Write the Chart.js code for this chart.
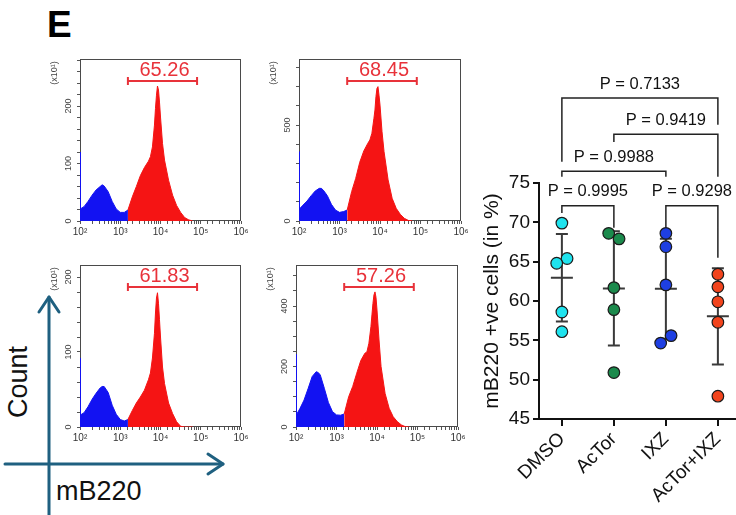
<!DOCTYPE html>
<html>
<head>
<meta charset="utf-8">
<script src="https://cdn.jsdelivr.net/npm/chart.js@4.4.1/dist/chart.umd.min.js"></script>
<style>
  html, body { margin: 0; padding: 0; background: #fff; overflow: hidden; }
  #wrap { position: relative; width: 736px; height: 515px; overflow: hidden; background: #fff; }
  #wrap canvas, #wrap svg { position: absolute; }
</style>
</head>
<body>
<div id="wrap">
  <svg width="736" height="515" style="left:0;top:0" font-family="Liberation Sans, Arial, sans-serif">
    <text x="47" y="37" font-size="37" font-weight="bold" fill="#000">E</text>
    <g stroke="#1f6080" stroke-width="3" fill="none" stroke-linecap="round" stroke-linejoin="round">
      <line x1="49" y1="516" x2="49" y2="297"/>
      <polyline points="39,312 49,297 59,312"/>
      <line x1="5" y1="464" x2="223" y2="464"/>
      <polyline points="208,454 223,464 208,474"/>
    </g>
    <text transform="translate(27,418) rotate(-90)" font-size="27" fill="#111">Count</text>
    <text x="56" y="500" font-size="27" fill="#111">mB220</text>
  </svg>
</div>
<script>
Chart.defaults.font.family = '"Liberation Sans", Arial, Helvetica, sans-serif';
Chart.defaults.animation = false;

// ---- flow histograms (mB220 intensity, log channels) ----
const channels = [100, 102, 126, 158, 200, 251, 316, 355, 398, 501, 631, 794, 1000, 1259, 1549,
  1995, 2512, 3162, 3981, 5012, 5623, 6310, 7079, 7499, 7943, 8414, 8913, 9441, 10000,
  11220, 12589, 15849, 19953, 25119, 31623, 39811, 50119, 63096];

const countsTopLeft = [120, 21, 25, 34, 45, 54, 60, 63, 61, 51, 34, 21, 15, 15, 19,
  42, 60, 79, 93, 104, 112, 129, 167, 196, 219, 235, 228, 207, 181,
  135, 106, 71, 45, 27, 15, 6, 2, 0];
const countsTopRight = [361, 62, 83, 104, 132, 156, 170, 170, 161, 132, 87, 57, 45, 49, 57,
  153, 222, 306, 365, 405, 422, 457, 535, 578, 648, 691, 700, 656, 604,
  465, 361, 214, 118, 66, 35, 14, 3, 0];
const countsBottomLeft = [92, 16, 19, 27, 37, 45, 52, 54, 54, 46, 29, 17, 10, 8, 10,
  22, 32, 40, 49, 63, 72, 92, 125, 152, 172, 179, 165, 143, 120,
  80, 58, 32, 18, 7, 1, 0, 0, 0];
const countsBottomRight = [240, 40, 62, 89, 128, 167, 183, 180, 172, 128, 81, 51, 40, 39, 43,
  100, 134, 178, 220, 244, 248, 277, 332, 371, 409, 437, 447, 429, 387,
  288, 200, 111, 62, 34, 18, 7, 1, 0];

const gate = [1549, 81000];
const gatePct = ['65.26', '68.45', '61.83', '57.26'];
const histYMax = [282, 844, 216, 536];
const histYStep = [20, 100, 20, 50];
const histYLabels = [[0, 100, 200], [0, 500], [0, 100, 200], [0, 200, 400]];
const xTickValues = [100, 1000, 10000, 100000, 1000000];
const xTickLabels = ['10²', '10³', '10⁴', '10⁵', '10⁶'];

// ---- dot plot ----
const groups = ['DMSO', 'AcTor', 'IXZ', 'AcTor+IXZ'];
const valsDMSO = [69.9, 65.4, 64.8, 58.6, 56.1];
const valsAcTor = [68.6, 67.9, 61.7, 58.9, 50.9];
const valsIXZ = [68.6, 66.9, 62.05, 55.6, 54.65];
const valsCombo = [63.4, 61.8, 59.9, 57.3, 47.9];
const jitDMSO = [0, 0.1, -0.1, 0, 0];
const jitAcTor = [-0.1, 0.1, 0, 0, 0];
const jitIXZ = [0, 0, 0, 0.1, -0.1];
const jitCombo = [0, 0, 0, 0, 0];

const pPairs = [[0, 3], [1, 3], [0, 2], [0, 1], [2, 3]];
const pText = ['P = 0.7133', 'P = 0.9419', 'P = 0.9988', 'P = 0.9995', 'P = 0.9298'];
const pLineY = [85.8, 81.2, 76.5, 72.1, 72.1];
const pLegEnds = [[77.7, 82.4], [80.2, 75.8], [75.8, 75.8], [71.2, 69.3], [69.3, 65.5]];

const BLUE = '#1212f2';
const RED = '#f51414';
const GATE_RED = '#e8323a';

const wrap = document.getElementById('wrap');

function addCanvas(left, top, w, h) {
  const cv = document.createElement('canvas');
  cv.width = w; cv.height = h;
  cv.style.left = left + 'px'; cv.style.top = top + 'px';
  wrap.appendChild(cv);
  return cv;
}

// blue below the gate, red inside it
const gateColor = c => (c.p0.parsed.x >= gate[0] ? RED : BLUE);

const histDeco = {
  id: 'histDeco',
  beforeDatasetsDraw(chart) {
    // frame goes under the fill so the first-channel spike shows on top of it
    const { ctx, chartArea: a } = chart;
    ctx.save();
    ctx.strokeStyle = '#4a4a4a';
    ctx.lineWidth = 1;
    ctx.strokeRect(a.left + 0.5, a.top + 0.5, a.right - a.left - 1, a.bottom - a.top - 1);
    ctx.restore();
  },
  afterDraw(chart, args, opts) {
    const { ctx, chartArea: a, scales: { x, y } } = chart;
    ctx.save();
    ctx.fillStyle = '#444';
    ctx.font = '9px "Liberation Sans", Arial';
    ctx.textAlign = 'center';
    ctx.textBaseline = 'middle';
    opts.yLabels.forEach(v => {
      ctx.save();
      ctx.translate(a.left - 11, y.getPixelForValue(v));
      ctx.rotate(-Math.PI / 2);
      ctx.fillText(String(v), 0, 0);
      ctx.restore();
    });
    ctx.save();
    ctx.translate(a.left - 25, a.top + 14);
    ctx.rotate(-Math.PI / 2);
    ctx.fillText('(x10¹)', 0, 0);
    ctx.restore();

    // gate bar + percentage
    const g0 = x.getPixelForValue(gate[0]), g1 = x.getPixelForValue(gate[1]);
    const gy = a.top + 22;
    ctx.strokeStyle = GATE_RED;
    ctx.lineWidth = 2;
    ctx.beginPath();
    ctx.moveTo(g0, gy); ctx.lineTo(g1, gy);
    ctx.moveTo(g0, gy - 4); ctx.lineTo(g0, gy + 4);
    ctx.moveTo(g1, gy - 4); ctx.lineTo(g1, gy + 4);
    ctx.stroke();
    ctx.fillStyle = GATE_RED;
    ctx.font = '20px "Liberation Sans", Arial';
    ctx.textBaseline = 'alphabetic';
    ctx.fillText(opts.pct, (g0 + g1) / 2 + 2, a.top + 17);
    ctx.restore();
  }
};

function makeHist(counts, k, fx, fy, fw, fh) {
  const cv = addCanvas(fx - 50, fy - 40, fw + 65, fh + 70);
  const pts = channels.map((c, i) => ({ x: c, y: counts[i] }));
  new Chart(cv, {
    type: 'line',
    data: {
      datasets: [{
        data: pts, fill: 'origin', borderWidth: 1, pointRadius: 0, tension: 0,
        borderColor: BLUE, backgroundColor: BLUE,
        segment: { borderColor: gateColor, backgroundColor: gateColor }
      }]
    },
    options: {
      responsive: false,
      animation: false,
      layout: { padding: { top: 40, right: 15, left: 0, bottom: 0 } },
      plugins: {
        legend: { display: false },
        tooltip: { enabled: false },
        histDeco: { yLabels: histYLabels[k], pct: gatePct[k] }
      },
      scales: {
        x: {
          type: 'logarithmic', min: 100, max: 1000000,
          border: { display: false },
          grid: { drawOnChartArea: false, tickLength: 3, color: '#555' },
          ticks: {
            autoSkip: false, maxRotation: 0, minRotation: 0, padding: 2,
            color: '#333', font: { size: 10 },
            callback: v => {
              const i = xTickValues.findIndex(t => Math.abs(t - v) < 1e-6 * t);
              return i >= 0 ? xTickLabels[i] : '';
            }
          },
          afterFit: s => { s.height = 30; }
        },
        y: {
          min: 0, max: histYMax[k],
          border: { display: false },
          grid: { drawOnChartArea: false, tickLength: 3, color: '#555' },
          ticks: { display: false, stepSize: histYStep[k], includeBounds: false },
          afterFit: s => { s.width = 50; }
        }
      }
    },
    plugins: [histDeco]
  });
}

makeHist(countsTopLeft, 0, 80, 59, 161, 162);
makeHist(countsTopRight, 1, 299, 59, 162, 162);
makeHist(countsBottomLeft, 2, 80, 265, 161, 162);
makeHist(countsBottomRight, 3, 296, 265, 162, 162);

// ---- dot plot with mean +/- SD and p-value brackets ----
const groupVals = [valsDMSO, valsAcTor, valsIXZ, valsCombo];
const groupJit = [jitDMSO, jitAcTor, jitIXZ, jitCombo];
const groupColors = ['#1fe3ee', '#1b8a4c', '#1e3fe2', '#f2441d'];

const dotDeco = {
  id: 'dotDeco',
  beforeDatasetsDraw(chart) {
    const { ctx, scales: { x, y } } = chart;
    ctx.save();
    ctx.strokeStyle = '#3a3a3a';
    ctx.lineWidth = 2;
    groupVals.forEach((vals, i) => {
      const n = vals.length;
      const mean = vals.reduce((s, v) => s + v, 0) / n;
      const sd = Math.sqrt(vals.reduce((s, v) => s + (v - mean) ** 2, 0) / (n - 1));
      const px = x.getPixelForValue(i);
      const yt = y.getPixelForValue(mean + sd), yb = y.getPixelForValue(mean - sd), ym = y.getPixelForValue(mean);
      ctx.beginPath();
      ctx.moveTo(px, yt); ctx.lineTo(px, yb);
      ctx.moveTo(px - 6, yt); ctx.lineTo(px + 6, yt);
      ctx.moveTo(px - 6, yb); ctx.lineTo(px + 6, yb);
      ctx.moveTo(px - 11, ym); ctx.lineTo(px + 11, ym);
      ctx.stroke();
    });
    ctx.restore();
  },
  afterDraw(chart) {
    const { ctx, scales: { x, y } } = chart;
    ctx.save();
    ctx.strokeStyle = '#222';
    ctx.lineWidth = 1.5;
    ctx.fillStyle = '#111';
    ctx.font = '16.5px "Liberation Sans", Arial';
    ctx.textAlign = 'center';
    ctx.textBaseline = 'middle';
    pPairs.forEach((pr, i) => {
      const xa = x.getPixelForValue(pr[0]), xb = x.getPixelForValue(pr[1]);
      const yl = y.getPixelForValue(pLineY[i]);
      ctx.beginPath();
      ctx.moveTo(xa, y.getPixelForValue(pLegEnds[i][0]));
      ctx.lineTo(xa, yl);
      ctx.lineTo(xb, yl);
      ctx.lineTo(xb, y.getPixelForValue(pLegEnds[i][1]));
      ctx.stroke();
      ctx.fillText(pText[i], (xa + xb) / 2, yl - 14);
    });
    ctx.restore();
  }
};

const dotCanvas = addCanvas(480, 60, 280, 455);
new Chart(dotCanvas, {
  type: 'scatter',
  data: {
    datasets: groups.map((g, i) => ({
      label: g,
      data: groupVals[i].map((v, j) => ({ x: i + groupJit[i][j], y: v })),
      backgroundColor: groupColors[i],
      borderColor: '#1b1b1b',
      borderWidth: 1.2,
      pointRadius: 5.8
    }))
  },
  options: {
    responsive: false,
    animation: false,
    layout: { padding: { top: 123, right: 13, left: 0, bottom: 0 } },
    plugins: { legend: { display: false }, tooltip: { enabled: false } },
    scales: {
      x: {
        type: 'linear', min: -0.44, max: 3.56,
        afterBuildTicks: s => { s.ticks = groups.map((g, i) => ({ value: i })); },
        border: { color: '#111', width: 2 },
        grid: { drawOnChartArea: false, tickLength: 7, color: '#111', lineWidth: 2 },
        ticks: {
          autoSkip: false, minRotation: 45, maxRotation: 45, padding: 2,
          color: '#111', font: { size: 19 },
          callback: v => groups[v]
        },
        afterFit: s => { s.height = 96; }
      },
      y: {
        min: 45, max: 75,
        border: { color: '#111', width: 2 },
        grid: { drawOnChartArea: false, tickLength: 6, color: '#111', lineWidth: 2 },
        ticks: { stepSize: 5, color: '#111', font: { size: 19 }, padding: 3 },
        title: { display: true, text: 'mB220 +ve cells (in %)', color: '#111', font: { size: 21 }, padding: { top: 0, bottom: 0 } },
        afterFit: s => { s.width = 59; }
      }
    }
  },
  plugins: [dotDeco]
});
</script>
</body>
</html>
